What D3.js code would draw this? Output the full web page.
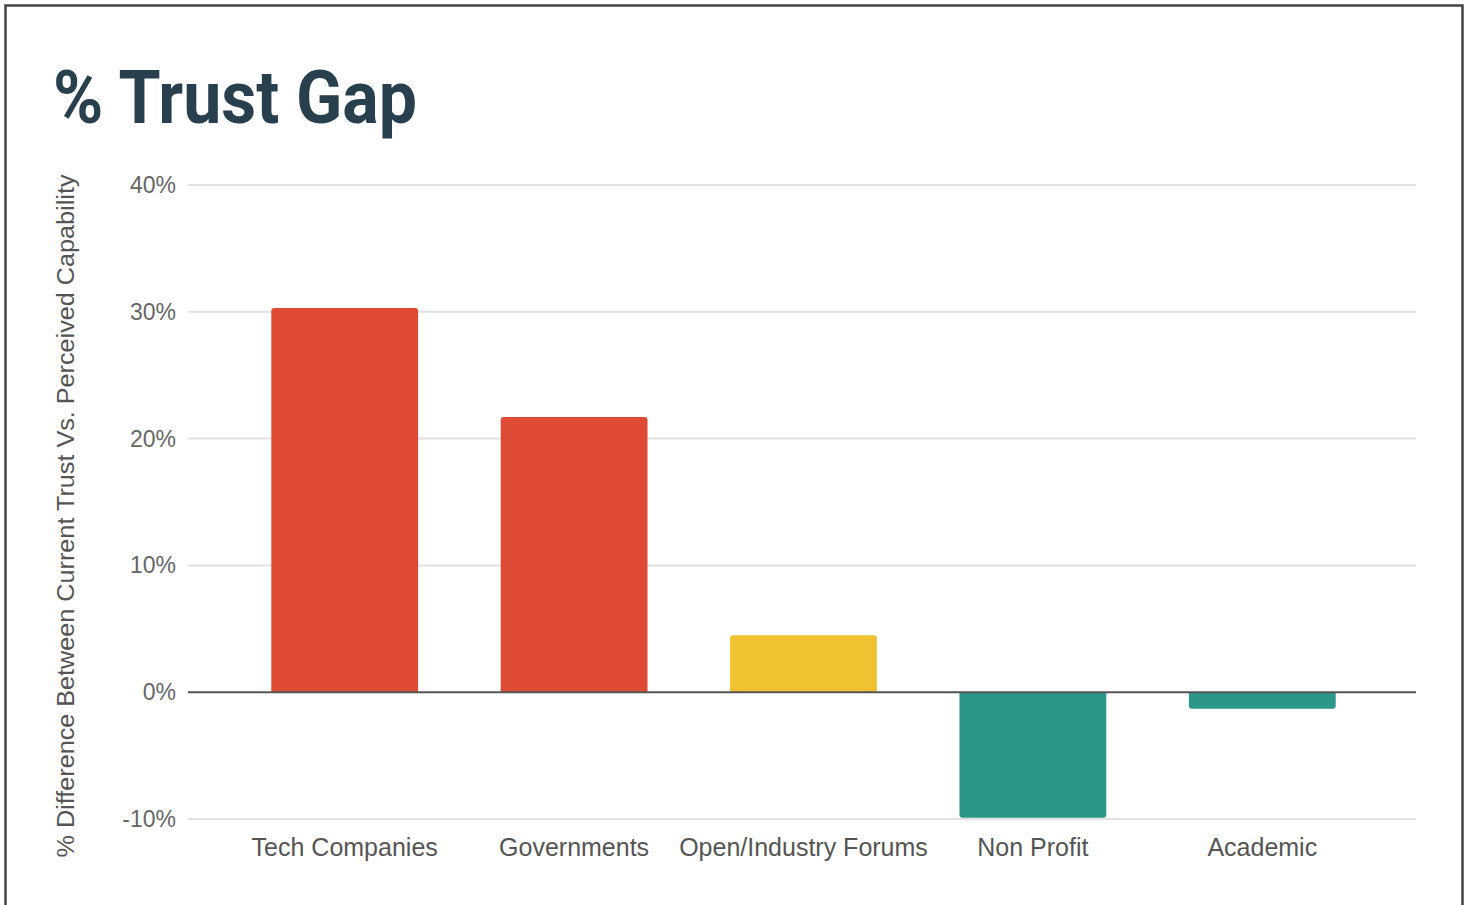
<!DOCTYPE html>
<html>
<head>
<meta charset="utf-8">
<script src="https://cdn.jsdelivr.net/npm/d3@7"></script>
<style>
  html, body { margin: 0; padding: 0; background: #fff; }
  svg { display: block; }
</style>
</head>
<body>
<svg id="chart" width="1470" height="905"></svg>
<script>
const categories = ["Tech Companies", "Governments", "Open/Industry Forums", "Non Profit", "Academic"];
const values = [30.3, 21.7, 4.5, -9.9, -1.3];
const barColors = ["#df4a35", "#df4a35", "#f0c232", "#2a9788", "#2a9788"];
const yTicks = [-10, 0, 10, 20, 30, 40];
const titleText = "% Trust Gap";
const yAxisTitle = "% Difference Between Current Trust Vs. Perceived Capability";

const svg = d3.select("#chart");

// frame
svg.append("rect")
  .attr("x", 5.5).attr("y", 5.5)
  .attr("width", 1457).attr("height", 920)
  .attr("fill", "#fff")
  .attr("stroke", "#444").attr("stroke-width", 2.5);

// title
svg.append("text")
  .attr("x", 53).attr("y", 123)
  .attr("font-family", "Roboto, 'Liberation Sans', sans-serif")
  .attr("font-weight", 700)
  .attr("font-size", 74)
  .attr("fill", "#283f4d")
  .attr("textLength", 364)
  .attr("lengthAdjust", "spacingAndGlyphs")
  .text(titleText);

const y = d3.scaleLinear().domain([-10, 40]).range([819, 185]);
const x = d3.scaleBand().domain(categories).range([230, 1377])
  .paddingInner(0.36).paddingOuter(0.18);

const gridX0 = 188, gridX1 = 1416;

// gridlines
svg.append("g").selectAll("line")
  .data(yTicks.filter(d => d !== 0))
  .join("line")
  .attr("x1", gridX0).attr("x2", gridX1)
  .attr("y1", d => y(d)).attr("y2", d => y(d))
  .attr("stroke", "#e2e2e2").attr("stroke-width", 2);

// y tick labels
svg.append("g").selectAll("text")
  .data(yTicks)
  .join("text")
  .attr("x", 176).attr("y", d => y(d))
  .attr("dy", "0.35em")
  .attr("text-anchor", "end")
  .attr("font-family", "'Liberation Sans', Arial, sans-serif")
  .attr("font-size", 23)
  .attr("fill", "#666")
  .text(d => d + "%");

// bars
svg.append("g").selectAll("path")
  .data(values)
  .join("path")
  .attr("fill", (d, i) => barColors[i])
  .attr("d", (d, i) => {
    const x0 = x(categories[i]), w = x.bandwidth();
    const yv = y(d), y0 = y(0);
    const r = 3;
    if (d >= 0) {
      return `M${x0},${y0}V${yv + r}Q${x0},${yv} ${x0 + r},${yv}H${x0 + w - r}Q${x0 + w},${yv} ${x0 + w},${yv + r}V${y0}Z`;
    } else {
      return `M${x0},${y0}V${yv - r}Q${x0},${yv} ${x0 + r},${yv}H${x0 + w - r}Q${x0 + w},${yv} ${x0 + w},${yv - r}V${y0}Z`;
    }
  });

// zero line
svg.append("line")
  .attr("x1", gridX0).attr("x2", gridX1)
  .attr("y1", y(0)).attr("y2", y(0))
  .attr("stroke", "#555").attr("stroke-width", 2);

// x labels
svg.append("g").selectAll("text")
  .data(categories)
  .join("text")
  .attr("x", d => x(d) + x.bandwidth() / 2)
  .attr("y", 856)
  .attr("text-anchor", "middle")
  .attr("font-family", "'Liberation Sans', Arial, sans-serif")
  .attr("font-size", 25)
  .attr("fill", "#555")
  .text(d => d);

// y axis title
svg.append("text")
  .attr("transform", "translate(74,516) rotate(-90)")
  .attr("text-anchor", "middle")
  .attr("font-family", "'Liberation Sans', Arial, sans-serif")
  .attr("font-size", 23)
  .attr("fill", "#555")
  .attr("textLength", 683)
  .attr("lengthAdjust", "spacingAndGlyphs")
  .text(yAxisTitle);
</script>
</body>
</html>
